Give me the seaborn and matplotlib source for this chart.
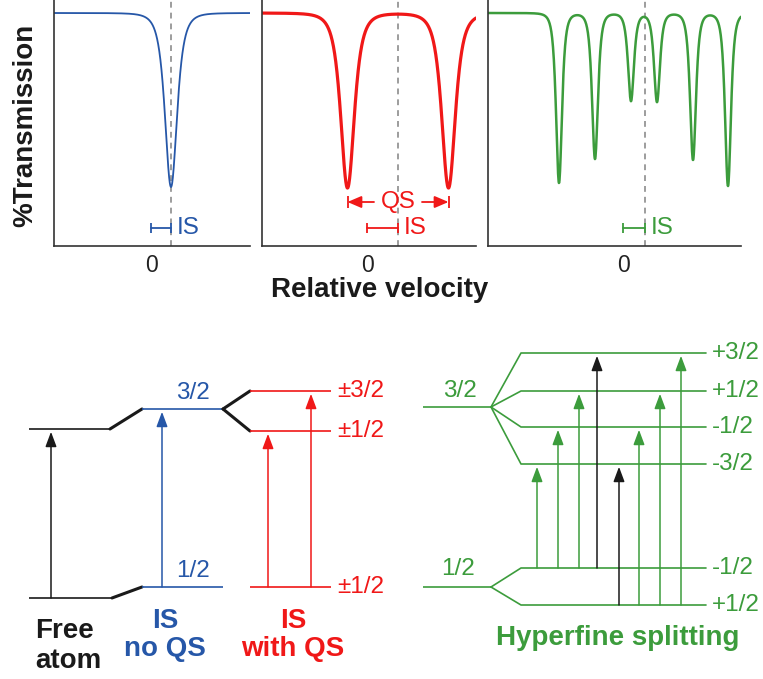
import numpy as np
import pandas as pd
import matplotlib
matplotlib.use("Agg")
import matplotlib.pyplot as plt
import seaborn as sns

# ---------------- spectra (velocity in arbitrary units, dips in % transmission) -------------
vel_range_single = (-4.85, 4.95)
is_single = 1.0
peaks_single = [1.0]
depths_single = [17.4]
width_single = 0.55

vel_range_quad = (-5.25, 5.45)
is_quad = 1.55
peaks_quad = [-0.975, 4.075]
depths_quad = [17.5, 17.5]
width_quad = 0.62

vel_range_hyper = (-6.75, 5.9)
is_hyper = 1.1
peaks_hyper = [-3.2, -1.4, 0.4, 1.7, 3.5, 5.25]
depths_hyper = [17.0, 14.6, 8.8, 8.9, 14.7, 17.3]
width_hyper = 0.27

baseline = 100.0
trans_limits = (76.7, 101.3)
is_bar_level = 78.5
qs_bar_level = 81.1

# ---------------- energy level diagram (schematic positions) -------------------------------
free_levels = [598, 429]          # ground, excited
is_levels = [587, 409]            # 1/2, 3/2 shifted
qs_levels = [587, 431, 391]       # ±1/2 ground, ±1/2 excited, ±3/2 excited
qs_labels = ["±1/2", "±1/2", "±3/2"]
hf_ground = 587
hf_excited = 407
hf_ground_sub = [568, 605]
hf_ground_labels = ["-1/2", "+1/2"]
hf_excited_sub = [353, 391, 427, 464]
hf_excited_labels = ["+3/2", "+1/2", "-1/2", "-3/2"]
# transitions: (x, lower level index, upper level index, colour key)
hf_transitions = [(537, 0, 3, "g"), (558, 0, 2, "g"), (579, 0, 1, "g"), (597, 0, 0, "k"),
                  (619, 1, 3, "k"), (639, 1, 2, "g"), (660, 1, 1, "g"), (681, 1, 0, "g")]

BLUE = "#2657a8"
RED = "#f01818"
GREEN = "#3c9c3c"
BLACK = "#1a1a1a"
DASH = "#8c8c8c"

sns.set_style("white")
plt.rcParams["font.family"] = ["Liberation Sans", "DejaVu Sans"]

W, H = 763, 679
fig = plt.figure(figsize=(W / 100, H / 100), dpi=100)

FS_SMALL = 17.5


def spectrum(vrange, peaks, depths, width, n=900):
    v = np.linspace(vrange[0], vrange[1], n)
    t = np.full_like(v, baseline)
    for c, d in zip(peaks, depths):
        t -= d / (1 + ((v - c) / width) ** 2) ** 2
    return pd.DataFrame({"velocity": v, "transmission": t})


def make_axes(x0, x1):
    ax = fig.add_axes([x0 / W, 1 - 246 / H, (x1 - x0) / W, 246 / H])
    ax.patch.set_alpha(0)
    return ax


def style_axes(ax, vrange):
    ax.set_xlim(*vrange)
    ax.set_ylim(*trans_limits)
    ax.set_xticks([0])
    ax.set_xticklabels(["0"])
    ax.set_yticks([])
    ax.tick_params(axis="x", direction="in", length=5, width=1.1, pad=6,
                   labelsize=16.5, colors="#222222")
    for s in ["top", "right"]:
        ax.spines[s].set_visible(False)
    for s in ["left", "bottom"]:
        ax.spines[s].set_color("#333333")
        ax.spines[s].set_linewidth(1.2)
    ax.set_xlabel("")
    ax.set_ylabel("")


def is_bar(ax, shift, color):
    ax.plot([0, shift], [is_bar_level] * 2, color=color, lw=1.3)
    ax.vlines([0, shift], is_bar_level - 0.5, is_bar_level + 0.5, color=color, lw=1.3)
    ax.text(shift + 0.3, is_bar_level, "IS", color=color, fontsize=FS_SMALL,
            ha="left", va="center")


panels = [
    (54, 250, vel_range_single, peaks_single, depths_single, width_single, is_single, BLUE, 1.3),
    (262, 476, vel_range_quad, peaks_quad, depths_quad, width_quad, is_quad, RED, 2.3),
    (488, 741, vel_range_hyper, peaks_hyper, depths_hyper, width_hyper, is_hyper, GREEN, 1.8),
]
axes = []
for x0, x1, vr, pk, dp, wd, shift, col, lw in panels:
    ax = make_axes(x0, x1)
    df = spectrum(vr, pk, dp, wd)
    sns.lineplot(data=df, x="velocity", y="transmission", ax=ax, color=col, lw=lw)
    ax.axvline(shift, color=DASH, ls=(0, (3.5, 3)), lw=1.2, zorder=0)
    style_axes(ax, vr)
    is_bar(ax, shift, col)
    axes.append(ax)

# quadrupole splitting marker
axq = axes[1]
qs_mid = np.mean(peaks_quad)
axq.vlines(peaks_quad, qs_bar_level - 0.6, qs_bar_level + 0.6, color=RED, lw=1.3)
axq.text(qs_mid, qs_bar_level, "QS", color=RED, fontsize=FS_SMALL, ha="center", va="center")
for end, side in zip(peaks_quad, [-1, 1]):
    axq.annotate("", xy=(end, qs_bar_level), xytext=(qs_mid + side * 1.2, qs_bar_level),
                 arrowprops=dict(arrowstyle="-|>,head_length=0.7,head_width=0.3",
                                 color=RED, lw=1.3, shrinkA=0, shrinkB=0,
                                 mutation_scale=12))

fig.text(25 / W, 1 - 125 / H, "%Transmission", rotation=90, fontsize=20,
         fontweight="bold", ha="center", va="center", color=BLACK)
fig.text(380 / W, 1 - 290 / H, "Relative velocity", fontsize=20,
         fontweight="bold", ha="center", va="center", color=BLACK)

# ---------------- energy level diagram -------------------------------------------------
axd = fig.add_axes([0, 0, 1, (H - 310) / H])
axd.set_xlim(0, W)
axd.set_ylim(H, 310)
axd.axis("off")

LW_LEVEL = 1.2


def level(x0, x1, y, color):
    axd.plot([x0, x1], [y, y], color=color, lw=LW_LEVEL, solid_capstyle="butt")


def transition(x, y0, y1, color):
    axd.annotate("", xy=(x, y1), xytext=(x, y0),
                 arrowprops=dict(arrowstyle="-|>,head_length=0.75,head_width=0.28",
                                 color=color, lw=1.1, shrinkA=0, shrinkB=2,
                                 mutation_scale=12))


# free atom
level(29, 112, free_levels[0], BLACK)
level(29, 110, free_levels[1], BLACK)
transition(51, free_levels[0], free_levels[1], BLACK)
axd.plot([112, 142], [free_levels[0], is_levels[0]], color=BLACK, lw=2.2)
axd.plot([110, 142], [free_levels[1], is_levels[1]], color=BLACK, lw=2.2)

# isomer shift only
level(142, 223, is_levels[0], BLUE)
level(142, 223, is_levels[1], BLUE)
transition(162, is_levels[0], is_levels[1], BLUE)
axd.text(193, is_levels[1] - 5, "3/2", color=BLUE, fontsize=FS_SMALL, ha="center", va="bottom")
axd.text(193, is_levels[0] - 5, "1/2", color=BLUE, fontsize=FS_SMALL, ha="center", va="bottom")

# quadrupole splitting
axd.plot([223, 250], [is_levels[1], qs_levels[2]], color=BLACK, lw=2.2)
axd.plot([223, 250], [is_levels[1], qs_levels[1]], color=BLACK, lw=2.2)
for y, lab in zip(qs_levels, qs_labels):
    level(250, 331, y, RED)
    axd.text(337, y, lab, color=RED, fontsize=FS_SMALL, ha="left", va="center")
transition(268, qs_levels[0], qs_levels[1], RED)
transition(311, qs_levels[0], qs_levels[2], RED)

# magnetic hyperfine splitting
level(423, 491, hf_excited, GREEN)
level(423, 491, hf_ground, GREEN)
axd.text(460, hf_excited - 5, "3/2", color=GREEN, fontsize=FS_SMALL, ha="center", va="bottom")
axd.text(458, hf_ground - 7, "1/2", color=GREEN, fontsize=FS_SMALL, ha="center", va="bottom")
for y, lab in zip(hf_excited_sub, hf_excited_labels):
    axd.plot([491, 521, 706], [hf_excited, y, y], color=GREEN, lw=LW_LEVEL)
    axd.text(712, y, lab, color=GREEN, fontsize=FS_SMALL, ha="left", va="center")
for y, lab in zip(hf_ground_sub, hf_ground_labels):
    axd.plot([491, 521, 706], [hf_ground, y, y], color=GREEN, lw=LW_LEVEL)
    axd.text(712, y, lab, color=GREEN, fontsize=FS_SMALL, ha="left", va="center")
for x, lo, hi, ck in hf_transitions:
    transition(x, hf_ground_sub[lo], hf_excited_sub[hi], GREEN if ck == "g" else BLACK)

# captions
axd.text(35, 646, "Free\natom", color=BLACK, fontsize=20, fontweight="bold",
         ha="left", va="center", linespacing=1.15)
axd.text(165, 635, "IS\nno QS", color=BLUE, fontsize=20, fontweight="bold",
         ha="center", va="center", linespacing=1.15)
axd.text(293, 635, "IS\nwith QS", color=RED, fontsize=20, fontweight="bold",
         ha="center", va="center", linespacing=1.15)
axd.text(618, 638, "Hyperfine splitting", color=GREEN, fontsize=20, fontweight="bold",
         ha="center", va="center")

fig.savefig("out.png", dpi=100)
